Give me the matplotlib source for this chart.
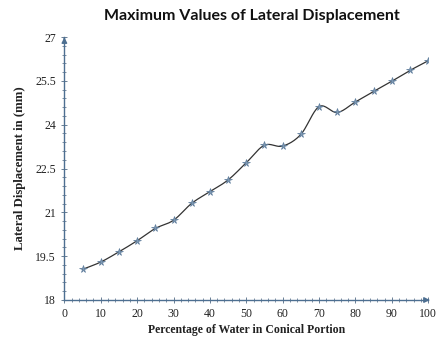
import numpy as np
import matplotlib
matplotlib.use("Agg")
import matplotlib.pyplot as plt
from matplotlib.ticker import MultipleLocator, FuncFormatter

# percentage of water vs max lateral displacement
pct_water = [5, 10, 15, 20, 25, 30, 35, 40, 45, 50,
             55, 60, 65, 70, 75, 80, 85, 90, 95, 100]
lat_disp = [19.05, 19.30, 19.65, 20.03, 20.45, 20.73, 21.31, 21.71, 22.11, 22.70,
            23.30, 23.27, 23.67, 24.62, 24.42, 24.78, 25.14, 25.49, 25.86, 26.19]

title = "Maximum Values of Lateral Displacement"
x_label = "Percentage of Water in Conical Portion"
y_label = "Lateral Displacement in (mm)"


def smooth(xs, ys, n=20):
    # catmull-rom style curve through the points (like excel smoothed line)
    xs = np.asarray(xs, float)
    ys = np.asarray(ys, float)
    px = np.concatenate([[2 * xs[0] - xs[1]], xs, [2 * xs[-1] - xs[-2]]])
    py = np.concatenate([[2 * ys[0] - ys[1]], ys, [2 * ys[-1] - ys[-2]]])
    out_x, out_y = [], []
    t = np.linspace(0, 1, n)
    for i in range(1, len(px) - 2):
        p0, p1, p2, p3 = [np.array([px[j], py[j]]) for j in (i - 1, i, i + 1, i + 2)]
        c1 = p1 + (p2 - p0) / 6.0
        c2 = p2 - (p3 - p1) / 6.0
        for tt in t:
            b = ((1 - tt) ** 3) * p1 + 3 * ((1 - tt) ** 2) * tt * c1 + 3 * (1 - tt) * tt ** 2 * c2 + tt ** 3 * p2
            out_x.append(b[0])
            out_y.append(b[1])
    return out_x, out_y


axis_col = "#4d6f91"
serif = "Liberation Serif"

fig = plt.figure(figsize=(4.41, 3.51), dpi=100)
ax = fig.add_axes([0.146, 0.1453, 0.825, 0.749])

sx, sy = smooth(pct_water, lat_disp)
ax.plot(sx, sy, color="#333333", lw=0.9, zorder=2)
ax.plot(pct_water, lat_disp, ls="none", marker="*", ms=5.5,
        color="#7d98b3", mec="#5f7d9c", mew=0.5, zorder=3)

ax.set_xlim(0, 100)
ax.set_ylim(18, 27)
ax.xaxis.set_major_locator(MultipleLocator(10))
ax.xaxis.set_minor_locator(MultipleLocator(2))
ax.yaxis.set_major_locator(MultipleLocator(1.5))
ax.yaxis.set_minor_locator(MultipleLocator(0.3))
ax.yaxis.set_major_formatter(FuncFormatter(lambda v, p: "%g" % round(v, 2)))

for s in ["top", "right"]:
    ax.spines[s].set_visible(False)
for s in ["left", "bottom"]:
    ax.spines[s].set_color(axis_col)
    ax.spines[s].set_linewidth(1.0)

ax.tick_params(which="both", direction="inout", colors="#6a7f95",
               labelcolor="#222222", labelsize=8.5)
ax.tick_params(which="major", length=5, width=0.7)
ax.tick_params(which="minor", length=3, width=0.6)
for lbl in ax.get_xticklabels() + ax.get_yticklabels():
    lbl.set_fontfamily(serif)

# arrow heads at the end of the axes
ax.annotate("", xy=(1.012, 0), xytext=(0.99, 0), xycoords="axes fraction",
            arrowprops=dict(arrowstyle="-|>", color=axis_col, lw=1.0,
                            mutation_scale=8), annotation_clip=False)
ax.annotate("", xy=(0, 1.01), xytext=(0, 0.98), xycoords="axes fraction",
            arrowprops=dict(arrowstyle="-|>", color=axis_col, lw=1.0,
                            mutation_scale=8), annotation_clip=False)

ax.set_xlabel(x_label, fontfamily=serif, fontweight="bold", fontsize=8.5,
              color="#222222", labelpad=3)
ax.set_ylabel(y_label, fontfamily=serif, fontweight="bold", fontsize=9.2,
              color="#222222", labelpad=7)
fig.text(0.572, 0.955, title, ha="center", va="center", fontfamily="Lato",
         fontweight="bold", fontsize=11.5, color="#111111")

fig.savefig("out.png", dpi=100)
